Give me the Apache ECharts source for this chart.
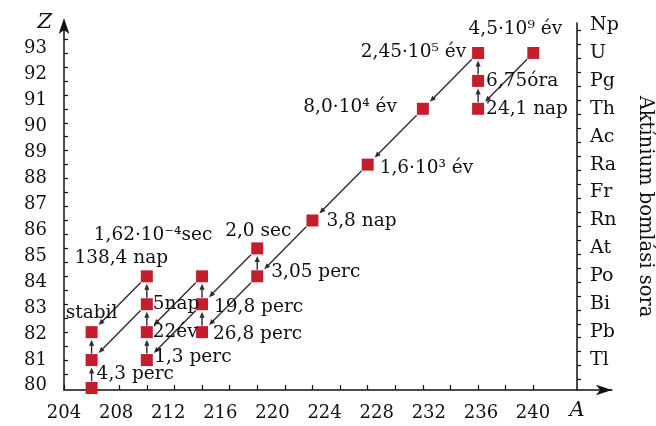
<!DOCTYPE html>
<html><head><meta charset="utf-8">
<script src="https://cdn.jsdelivr.net/npm/echarts@6/dist/echarts.min.js"></script>
<style>html,body{margin:0;padding:0;background:#fff}#c{width:656px;height:426px}</style>
</head><body><div id="c"></div>
<script>
// ---------- data ----------
const nuclides = ['U-238','Th-234','Pa-234','U-234','Th-230','Ra-226','Rn-222','Po-218','At-218','Pb-214','Bi-214','Po-214','Tl-210','Pb-210','Bi-210','Po-210','Hg-206','Tl-206','Pb-206'];
const massNumbers   = [238,234,234,234,230,226,222,218,218,214,214,214,210,210,210,210,206,206,206];
const atomicNumbers = [92, 90, 91, 92, 90, 88, 86, 84, 85, 82, 83, 84, 81, 82, 83, 84, 80, 81, 82];
const halfLives = ['4,5·10⁹ év','24,1 nap','6,75óra','2,45·10⁵ év','8,0·10⁴ év','1,6·10³ év','3,8 nap','3,05 perc','2,0 sec','26,8 perc','19,8 perc','1,62·10⁻⁴sec','1,3 perc','22év','5nap','138,4 nap','','4,3 perc','stabil'];
// decay links (indices into the nuclide arrays)
const decayFrom = [0,1,2,3,4,5,6,7,7,8, 9,10,10,11,12,13,14,14,15,16,17];
const decayTo   = [1,2,3,4,5,6,7,8,9,10,10,11,12,13,13,14,15,17,18,17,18];
// axes
const aTickLabels = [204,208,212,216,220,224,228,232,236,240];
const aTickMarks  = [204,206,208,210,212,214,216,218,220,222,224,226,228,230,232,234,236,238];
const zTickLabels = [80,81,82,83,84,85,86,87,88,89,90,91,92,93];
const zTickMarks  = [80.5,81,81.5,82,82.5,83,83.5,84,84.5,85,85.5,86,86.5,87,87.5,88,88.5,89,89.5,90,90.5,91,91.5,92,92.5];
const rightTickMarks = [80.3,80.8,81.3,81.8,82.3,82.8,83.3,83.8,84.3,84.8,85.3,85.8,86.3,86.8,87.3,87.8,88.3,88.8,89.3,89.8,90.3,90.8,91.3,91.8,92.3,92.8];
const elementNames = ['Tl','Pb','Bi','Po','At','Rn','Fr','Ra','Ac','Th','Pg','U','Np'];
const elementZ     = [81,82,83,84,85,86,87,88,89,90,91,92,93];
const seriesTitle = 'Aktínium bomlási sora';
const xName = 'A', yName = 'Z';

// ---------- styles ----------
const FONT = 'DejaVu Serif';
const INK = '#111011';
const LINE = '#2e2e2e';
const RED = '#c41e2c';
const HALF = 6;
// label placement per nuclide: [position, distance, dx, dy]
const labelPlacement = [
  ['top',7.5,-18,0], ['right',2,0,0], ['right',2,0,0], ['left',6,0,-1], ['left',20,0,-2],
  ['right',6,0,4], ['right',8,0,1], ['right',8,0,-4], ['top',1,1,0], ['right',5,0,2],
  ['right',6,0,3], ['top',24.8,-49,0], ['right',1.4,0,-3], ['right',0,0,0], ['right',0,0,0],
  ['top',1.8,-25.6,0], ['right',0,0,0], ['right',0,-1,14], ['top',2.7,0,0]
];

const chart = echarts.init(document.getElementById('c'), null, {renderer:'canvas'});

const pointMin = 79.928, pointMax = 93.073;

const option = {
  animation: false,
  backgroundColor: '#fff',
  grid: {left: 64, right: 44, top: 23, bottom: 36, containLabel: false, outerBoundsMode: 'none'},
  xAxis: [
    {
      type: 'value', min: 204, max: 243.70, position: 'bottom',
      axisLine: {show: true, onZero: false, symbol: ['none','arrow'], symbolSize: [8,16], lineStyle: {color: INK, width: 1.5}},
      axisTick: {show: true, inside: true, length: 5, customValues: aTickMarks, lineStyle: {color: INK, width: 1.2}},
      axisLabel: {show: false}, splitLine: {show: false},
      name: xName, nameLocation: 'end', nameGap: -35, nameMoveOverlap: false,
      nameTextStyle: {fontFamily: FONT, fontStyle: 'italic', fontSize: 21, color: INK, align: 'center', verticalAlign: 'top', padding: [10,0,0,0]}
    },
    {
      type: 'value', min: 204, max: 246.06, position: 'bottom',
      axisLine: {show: false}, axisTick: {show: false}, splitLine: {show: false},
      axisLabel: {customValues: aTickLabels, margin: 14, fontFamily: FONT, fontSize: 18, color: INK}
    }
  ],
  yAxis: [
    {
      type: 'value', min: pointMin, max: pointMax, position: 'left',
      axisLine: {show: true, onZero: false, symbol: ['none','arrow'], symbolSize: [8,16], symbolOffset: [0,5], lineStyle: {color: INK, width: 1.5}},
      axisTick: {show: true, inside: true, length: 4, customValues: zTickMarks, lineStyle: {color: INK, width: 1.2}},
      axisLabel: {show: false}, splitLine: {show: false},
      name: yName, nameLocation: 'end', nameGap: 0, nameMoveOverlap: false,
      nameTextStyle: {fontFamily: FONT, fontStyle: 'italic', fontSize: 21, color: INK, align: 'right', verticalAlign: 'middle', padding: [0,12,0,0]}
    },
    {
      type: 'value', min: 79.838, max: 93.975, position: 'left',
      axisLine: {show: false}, axisTick: {show: false}, splitLine: {show: false},
      axisLabel: {customValues: zTickLabels, margin: 17, fontFamily: FONT, fontSize: 18, color: INK}
    },
    {
      type: 'value', min: pointMin, max: pointMax, position: 'right', offset: -35,
      axisLine: {show: true, onZero: false, lineStyle: {color: INK, width: 1.5}},
      axisTick: {show: true, inside: false, length: 4, customValues: rightTickMarks, lineStyle: {color: INK, width: 1.2}},
      axisLabel: {customValues: elementZ, margin: 13, fontFamily: FONT, fontSize: 19, color: INK,
        formatter: v => elementNames[elementZ.indexOf(Math.round(v))]},
      splitLine: {show: false},
      name: seriesTitle, nameLocation: 'middle', nameRotate: -90, nameGap: 58, nameMoveOverlap: false,
      nameTextStyle: {fontFamily: FONT, fontSize: 19.5, color: INK}
    }
  ],
  series: [
    {
      type: 'custom', name: 'bomlás', xAxisIndex: 0, yAxisIndex: 0, silent: true, z: 2,
      data: decayFrom.map((f, i) => [massNumbers[f], atomicNumbers[f], massNumbers[decayTo[i]], atomicNumbers[decayTo[i]]]),
      encode: {x: [0,2], y: [1,3]},
      renderItem: function (params, api) {
        const p1 = api.coord([api.value(0), api.value(1)]);
        const p2 = api.coord([api.value(2), api.value(3)]);
        const dx = p2[0]-p1[0], dy = p2[1]-p1[1];
        const len = Math.hypot(dx, dy); const ux = dx/len, uy = dy/len;
        const m = Math.max(Math.abs(ux), Math.abs(uy));
        const s0 = HALF/m + 0.5, s1 = HALF/m + 1.5;
        const a = [p1[0]+ux*s0, p1[1]+uy*s0];
        const b = [p2[0]-ux*s1, p2[1]-uy*s1];
        const L = 6, W = 2.6;
        const base = [b[0]-ux*L, b[1]-uy*L];
        return {type: 'group', children: [
          {type: 'line', shape: {x1: a[0], y1: a[1], x2: base[0]+ux*1, y2: base[1]+uy*1}, style: {stroke: LINE, lineWidth: 1.4}},
          {type: 'polygon', shape: {points: [b, [base[0]-uy*W, base[1]+ux*W], [base[0]+uy*W, base[1]-ux*W]]}, style: {fill: LINE}}
        ]};
      }
    },
    {
      type: 'scatter', name: 'nuklidok', xAxisIndex: 0, yAxisIndex: 0, z: 3,
      symbol: 'rect', symbolSize: 12,
      itemStyle: {color: RED, opacity: 1},
      emphasis: {disabled: true},
      label: {show: true, fontFamily: FONT, fontSize: 18.5, lineHeight: 21, color: INK,
        formatter: p => halfLives[p.dataIndex]},
      data: massNumbers.map((a, i) => ({
        name: nuclides[i], value: [a, atomicNumbers[i]],
        label: {position: labelPlacement[i][0], distance: labelPlacement[i][1], offset: [labelPlacement[i][2], labelPlacement[i][3]]}
      }))
    }
  ]
};
chart.setOption(option);
</script></body></html>
